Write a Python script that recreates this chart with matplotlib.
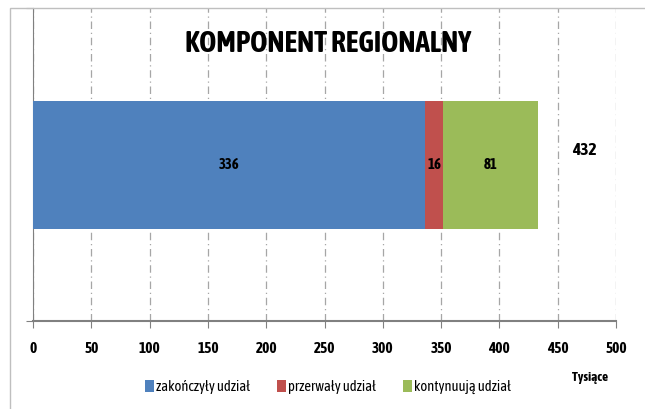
import matplotlib
matplotlib.use("Agg")
import matplotlib.pyplot as plt
from matplotlib.patches import Rectangle
from matplotlib import font_manager

names = {f.name for f in font_manager.fontManager.ttflist}
narrow = "DejaVu Sans"
for cand in ["Asap Condensed", "Barlow Condensed", "Archivo Narrow", "Carlito"]:
    if cand in names:
        narrow = cand
        break

series = ["zakończyły udział", "przerwały udział", "kontynuują udział"]
values = [336, 16, 81]
total = 432
colors = ["#4f81bd", "#c0504d", "#9bbb59"]
xticks = [0, 50, 100, 150, 200, 250, 300, 350, 400, 450, 500]
title = "KOMPONENT REGIONALNY"
unit = "Tysiące"

fig = plt.figure(figsize=(6.45, 4.09), dpi=100)
fig.patches.append(Rectangle((10/645, -0.1), 1.2, 1 - 8/409 + 0.1, transform=fig.transFigure,
                             fill=False, edgecolor="#bfbfbf", linewidth=1))
ax = fig.add_axes([33/645, 1 - 321/409, (616-33)/645, (321-8)/409])
ax.set_xlim(0, 500)
ax.set_ylim(0, 1)
yc, h = 0.498, 0.409
left = 0
for name, v, c in zip(series, values, colors):
    ax.barh(yc, v, height=h, left=left, color=c, label=name, zorder=3)
    ax.text(left + v/2, yc, str(v), ha="center", va="center", fontsize=10.5,
            fontweight="bold", family=narrow, zorder=4)
    left += v
ax.text(473, 0.545, str(total), ha="center", va="center", fontsize=12.5,
        fontweight="bold", family=narrow)

ax.set_xticks(xticks)
ax.set_xticklabels([str(t) for t in xticks], fontsize=11, fontweight="bold", family=narrow)
ax.tick_params(axis="x", length=5, color="#808080", pad=10)
ax.set_yticks([0, 1])
ax.set_yticklabels([])
ax.tick_params(axis="y", length=5, color="#808080")
ax.grid(axis="x", color="#a6a6a6", linestyle=(0, (6, 3, 1, 3)), linewidth=0.9, zorder=0)
for s in ["top", "right"]:
    ax.spines[s].set_visible(False)
ax.spines["left"].set_color("#808080")
ax.spines["bottom"].set_color("#808080")
ax.spines["bottom"].set_linewidth(1.5)

fig.text(328/645, 1 - 44/409, title, ha="center", va="center", fontsize=21,
         fontweight="bold", family=narrow)
fig.text(590/645, 1 - 378/409, unit, ha="center", va="center", fontsize=9.5,
         fontweight="bold", family=narrow)
fig.legend(loc="center", bbox_to_anchor=(328/645, 1 - 387/409), ncol=3, frameon=False,
           prop={"family": narrow, "size": 10.5}, handlelength=0.6, handleheight=0.9,
           handletextpad=0.15, columnspacing=1.85)
fig.savefig("out.png", dpi=100)
